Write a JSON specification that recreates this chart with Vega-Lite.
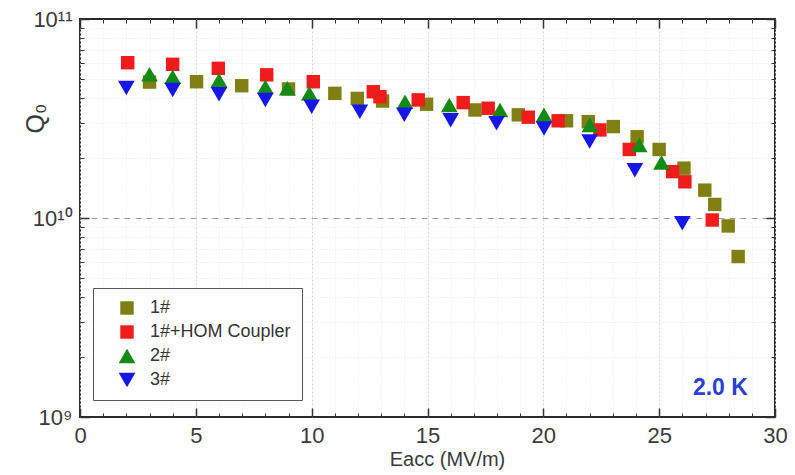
{
  "$schema": "https://vega.github.io/schema/vega-lite/v6.json",
  "width": 695,
  "height": 398,
  "autosize": {"type": "none"},
  "padding": {"left": 80, "top": 19, "right": 20, "bottom": 58},
  "background": "white",
  "config": {
    "font": "Liberation Sans",
    "view": {"stroke": "#2a2a2a", "strokeWidth": 2},
    "axis": {"domain": false, "labelFont": "Liberation Sans", "titleFont": "Liberation Sans", "tickColor": "#333", "labelColor": "#3a3a3a", "titleColor": "#3a3a3a", "titleFontWeight": "normal"}
  },
  "data": {
    "values": [
      {"s": "1#", "E": 3.0, "Q": 4.82e10},
      {"s": "1#", "E": 5.03, "Q": 4.84e10},
      {"s": "1#", "E": 6.98, "Q": 4.62e10},
      {"s": "1#", "E": 9.0, "Q": 4.45e10},
      {"s": "1#", "E": 11.0, "Q": 4.23e10},
      {"s": "1#", "E": 11.97, "Q": 3.99e10},
      {"s": "1#", "E": 13.06, "Q": 3.87e10},
      {"s": "1#", "E": 14.96, "Q": 3.73e10},
      {"s": "1#", "E": 17.05, "Q": 3.49e10},
      {"s": "1#", "E": 18.92, "Q": 3.3e10},
      {"s": "1#", "E": 21.0, "Q": 3.08e10},
      {"s": "1#", "E": 21.94, "Q": 3.05e10},
      {"s": "1#", "E": 23.02, "Q": 2.88e10},
      {"s": "1#", "E": 24.05, "Q": 2.56e10},
      {"s": "1#", "E": 25.0, "Q": 2.21e10},
      {"s": "1#", "E": 26.07, "Q": 1.78e10},
      {"s": "1#", "E": 26.97, "Q": 1.38e10},
      {"s": "1#", "E": 27.4, "Q": 1.17e10},
      {"s": "1#", "E": 27.98, "Q": 9.12e9},
      {"s": "1#", "E": 28.41, "Q": 6.4e9},
      {"s": "1#+HOM Coupler", "E": 2.06, "Q": 6.03e10},
      {"s": "1#+HOM Coupler", "E": 4.0, "Q": 5.92e10},
      {"s": "1#+HOM Coupler", "E": 5.97, "Q": 5.65e10},
      {"s": "1#+HOM Coupler", "E": 8.06, "Q": 5.24e10},
      {"s": "1#+HOM Coupler", "E": 10.07, "Q": 4.84e10},
      {"s": "1#+HOM Coupler", "E": 12.66, "Q": 4.31e10},
      {"s": "1#+HOM Coupler", "E": 12.95, "Q": 4.07e10},
      {"s": "1#+HOM Coupler", "E": 14.6, "Q": 3.92e10},
      {"s": "1#+HOM Coupler", "E": 16.54, "Q": 3.8e10},
      {"s": "1#+HOM Coupler", "E": 17.62, "Q": 3.56e10},
      {"s": "1#+HOM Coupler", "E": 19.35, "Q": 3.21e10},
      {"s": "1#+HOM Coupler", "E": 20.64, "Q": 3.08e10},
      {"s": "1#+HOM Coupler", "E": 22.44, "Q": 2.77e10},
      {"s": "1#+HOM Coupler", "E": 23.71, "Q": 2.21e10},
      {"s": "1#+HOM Coupler", "E": 25.58, "Q": 1.71e10},
      {"s": "1#+HOM Coupler", "E": 26.11, "Q": 1.52e10},
      {"s": "1#+HOM Coupler", "E": 27.29, "Q": 9.77e9},
      {"s": "2#", "E": 3.0, "Q": 5.27e10},
      {"s": "2#", "E": 4.0, "Q": 5.13e10},
      {"s": "2#", "E": 6.0, "Q": 4.93e10},
      {"s": "2#", "E": 8.0, "Q": 4.57e10},
      {"s": "2#", "E": 8.95, "Q": 4.49e10},
      {"s": "2#", "E": 9.9, "Q": 4.23e10},
      {"s": "2#", "E": 14.03, "Q": 3.84e10},
      {"s": "2#", "E": 15.94, "Q": 3.7e10},
      {"s": "2#", "E": 18.13, "Q": 3.49e10},
      {"s": "2#", "E": 20.03, "Q": 3.3e10},
      {"s": "2#", "E": 22.01, "Q": 2.93e10},
      {"s": "2#", "E": 24.14, "Q": 2.33e10},
      {"s": "2#", "E": 25.1, "Q": 1.9e10},
      {"s": "3#", "E": 2.0, "Q": 4.5e10},
      {"s": "3#", "E": 4.0, "Q": 4.4e10},
      {"s": "3#", "E": 6.0, "Q": 4.19e10},
      {"s": "3#", "E": 8.0, "Q": 3.92e10},
      {"s": "3#", "E": 10.0, "Q": 3.62e10},
      {"s": "3#", "E": 12.08, "Q": 3.42e10},
      {"s": "3#", "E": 14.0, "Q": 3.3e10},
      {"s": "3#", "E": 16.0, "Q": 3.1e10},
      {"s": "3#", "E": 17.98, "Q": 2.99e10},
      {"s": "3#", "E": 20.03, "Q": 2.82e10},
      {"s": "3#", "E": 22.0, "Q": 2.42e10},
      {"s": "3#", "E": 23.95, "Q": 1.74e10},
      {"s": "3#", "E": 26.0, "Q": 9.4e9}
    ]
  },
  "resolve": {"axis": {"x": "independent", "y": "independent"}},
  "layer": [
    {
      "mark": {"type": "point", "opacity": 0},
      "encoding": {
        "x": {"field": "E", "type": "quantitative", "scale": {"domain": [0, 30], "nice": false, "zero": false},
          "axis": {"orient": "bottom", "values": [1,2,3,4,6,7,8,9,11,12,13,14,16,17,18,19,21,22,23,24,26,27,28,29], "labels": false, "title": null, "ticks": true, "tickSize": -4, "tickWidth": 1, "grid": true, "gridColor": "#eeeeee", "gridDash": [1, 2], "gridWidth": 1}},
        "y": {"field": "Q", "type": "quantitative", "scale": {"type": "log", "domain": [1e9, 1e11], "nice": false},
          "axis": {"orient": "left", "values": [2e9,3e9,4e9,5e9,6e9,7e9,8e9,9e9,2e10,3e10,4e10,5e10,6e10,7e10,8e10,9e10], "labels": false, "title": null, "ticks": true, "tickSize": -4, "tickWidth": 1, "grid": true, "gridColor": "#e6e6e6", "gridDash": [1, 2], "gridWidth": 1}}
      }
    },
    {
      "mark": {"type": "point", "opacity": 0},
      "encoding": {
        "x": {"field": "E", "type": "quantitative",
          "axis": {"orient": "bottom", "values": [0, 5, 10, 15, 20, 25, 30], "labels": true, "labelFontSize": 22, "labelPadding": 8, "labelFlush": false, "title": "Eacc (MV/m)", "titleFontSize": 20, "titleX": 367, "titleY": 42, "titleBaseline": "middle", "titleAlign": "center", "ticks": false, "grid": true, "gridColor": "#d4d4d4", "gridDash": [2, 2], "gridWidth": 1}},
        "y": {"field": "Q", "type": "quantitative",
          "axis": {"orient": "left", "values": [1e10], "labels": false, "title": null, "ticks": false, "grid": true, "gridColor": "#9a9a9a", "gridDash": [6, 5], "gridWidth": 1}}
      }
    },
    {
      "mark": {"type": "point", "opacity": 0},
      "encoding": {
        "x": {"field": "E", "type": "quantitative",
          "axis": {"orient": "bottom", "values": [0, 5, 10, 15, 20, 25, 30], "labels": false, "title": null, "ticks": true, "tickSize": -9, "tickWidth": 1.5, "grid": false}},
        "y": {"field": "Q", "type": "quantitative",
          "axis": {"orient": "left", "values": [1e9, 1e10, 1e11], "labels": true, "labelFontSize": 22, "labelPadding": 17, "labelExpr": "datum.value > 5e10 ? '10¹¹' : (datum.value > 5e9 ? '10¹⁰' : '10⁹')", "title": "Q₀", "titleFontSize": 25, "titleX": -45, "titleY": 99, "titleAngle": -90, "titleAlign": "center", "titleBaseline": "middle", "ticks": true, "tickSize": -9, "tickWidth": 1.5, "grid": false}}
      }
    },
    {
      "mark": {"type": "point", "opacity": 0},
      "encoding": {
        "x": {"field": "E", "type": "quantitative",
          "axis": {"orient": "top", "values": [0, 5, 10, 15, 20, 25, 30], "labels": false, "title": null, "ticks": true, "tickSize": -9, "tickWidth": 1.5, "grid": false}},
        "y": {"field": "Q", "type": "quantitative",
          "axis": {"orient": "right", "values": [1e9, 1e10, 1e11], "labels": false, "title": null, "ticks": true, "tickSize": -9, "tickWidth": 1.5, "grid": false}}
      }
    },
    {
      "mark": {"type": "point", "opacity": 0},
      "encoding": {
        "x": {"field": "E", "type": "quantitative",
          "axis": {"orient": "top", "values": [1,2,3,4,6,7,8,9,11,12,13,14,16,17,18,19,21,22,23,24,26,27,28,29], "labels": false, "title": null, "ticks": true, "tickSize": -4, "tickWidth": 1, "grid": false}},
        "y": {"field": "Q", "type": "quantitative",
          "axis": {"orient": "right", "values": [2e9,3e9,4e9,5e9,6e9,7e9,8e9,9e9,2e10,3e10,4e10,5e10,6e10,7e10,8e10,9e10], "labels": false, "title": null, "ticks": true, "tickSize": -4, "tickWidth": 1, "grid": false}}
      }
    },
    {
      "mark": {"type": "point", "filled": true, "opacity": 1, "strokeWidth": 0},
      "encoding": {
        "x": {"field": "E", "type": "quantitative", "axis": null},
        "y": {"field": "Q", "type": "quantitative", "axis": null},
        "color": {"field": "s", "type": "nominal", "scale": {"domain": ["1#", "1#+HOM Coupler", "2#", "3#"], "range": ["#7f7f14", "#f01c1c", "#138a13", "#1616e8"]},
          "legend": {"title": null, "orient": "none", "legendX": 13, "legendY": 269, "strokeColor": "#555", "fillColor": "#ffffff", "padding": 11, "symbolOffset": 14, "labelFontSize": 18, "labelColor": "#333", "labelOffset": 14, "rowPadding": 6, "symbolStrokeWidth": 0, "labelFont": "Liberation Sans"}},
        "shape": {"field": "s", "type": "nominal", "scale": {"domain": ["1#", "1#+HOM Coupler", "2#", "3#"], "range": ["square", "square", "triangle-up", "triangle-down"]}},
        "size": {"field": "s", "type": "nominal", "scale": {"type": "ordinal", "domain": ["1#", "1#+HOM Coupler", "2#", "3#"], "range": [180, 180, 280, 280]}}
      }
    },
    {
      "data": {"values": [{"E": 28.83, "Q": 1.4e9, "label": "2.0 K"}]},
      "mark": {"type": "text", "align": "right", "baseline": "middle", "fontSize": 23, "fontWeight": "bold", "color": "#2b3fd8", "font": "Liberation Sans"},
      "encoding": {
        "x": {"field": "E", "type": "quantitative", "axis": null},
        "y": {"field": "Q", "type": "quantitative", "axis": null},
        "text": {"field": "label"}
      }
    }
  ]
}
